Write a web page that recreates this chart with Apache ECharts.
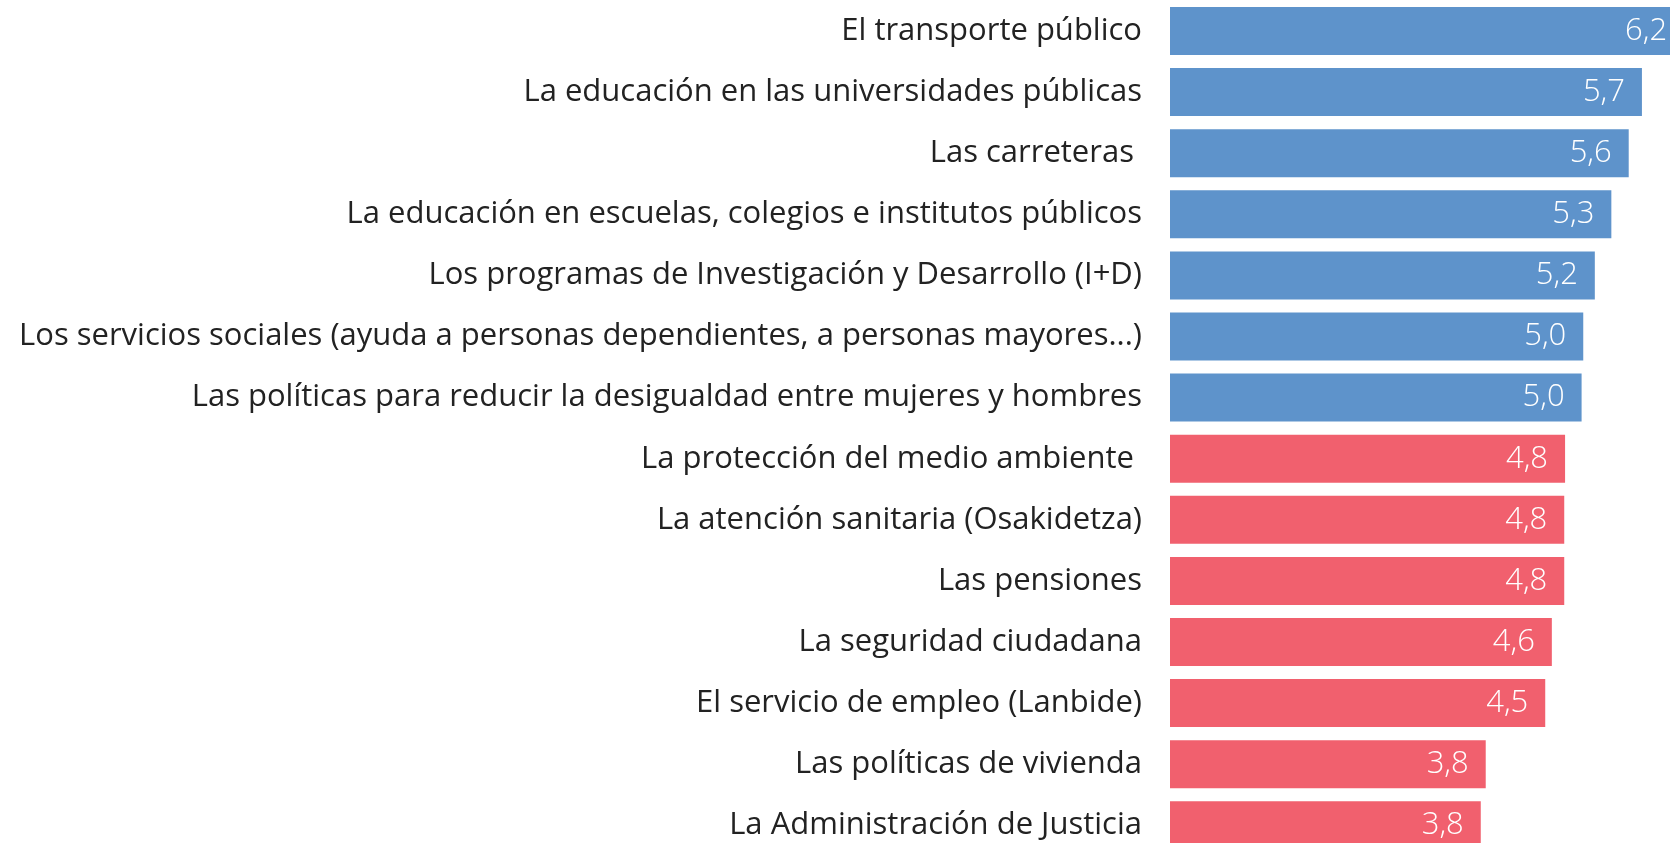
<!DOCTYPE html>
<html>
<head>
<meta charset="utf-8">
<script src="https://cdn.jsdelivr.net/npm/echarts@6/dist/echarts.min.js"></script>
<style>
html,body{margin:0;padding:0;background:#fff;}
#chart{width:1670px;height:843px;}
</style>
</head>
<body>
<div id="chart"></div>
<script>
const categories = [
  "El transporte público",
  "La educación en las universidades públicas",
  "Las carreteras ",
  "La educación en escuelas, colegios e institutos públicos",
  "Los programas de Investigación y Desarrollo (I+D)",
  "Los servicios sociales (ayuda a personas dependientes, a personas mayores...)",
  "Las políticas para reducir la desigualdad entre mujeres y hombres",
  "La protección del medio ambiente ",
  "La atención sanitaria (Osakidetza)",
  "Las pensiones",
  "La seguridad ciudadana",
  "El servicio de empleo (Lanbide)",
  "Las políticas de vivienda",
  "La Administración de Justicia"
];
const values = [6.22, 5.71, 5.55, 5.34, 5.14, 5.00, 4.98, 4.78, 4.77, 4.77, 4.62, 4.54, 3.82, 3.76];
const valueLabels = ["6,2", "5,7", "5,6", "5,3", "5,2", "5,0", "5,0", "4,8", "4,8", "4,8", "4,6", "4,5", "3,8", "3,8"];

const BLUE = '#5E93CB';
const RED = '#F1606E';
const FONT = "'Open Sans', sans-serif";

const chart = echarts.init(document.getElementById('chart'), null, {renderer: 'canvas'});
chart.setOption({
  animation: false,
  backgroundColor: '#ffffff',
  grid: {
    left: 1170,
    top: 0.45,
    width: 661.2,
    height: 855.4,
    containLabel: false,
    outerBoundsMode: 'none'
  },
  xAxis: {
    type: 'value',
    min: 0,
    max: 8,
    show: false,
    splitLine: {show: false}
  },
  yAxis: {
    type: 'category',
    data: categories,
    inverse: true,
    axisLine: {show: false},
    axisTick: {show: false},
    axisLabel: {
      margin: 28,
      fontFamily: FONT,
      fontSize: 31,
      color: '#222222'
    }
  },
  series: [{
    type: 'bar',
    data: values,
    barWidth: 48,
    itemStyle: {
      color: function (p) { return p.value >= 4.9 ? BLUE : RED; }
    },
    label: {
      show: true,
      position: 'insideRight',
      distance: 17,
      color: '#ffffff',
      fontFamily: FONT,
      fontWeight: 300,
      fontSize: 31,
      formatter: function (p) { return valueLabels[p.dataIndex]; }
    }
  }]
});
</script>
</body>
</html>
